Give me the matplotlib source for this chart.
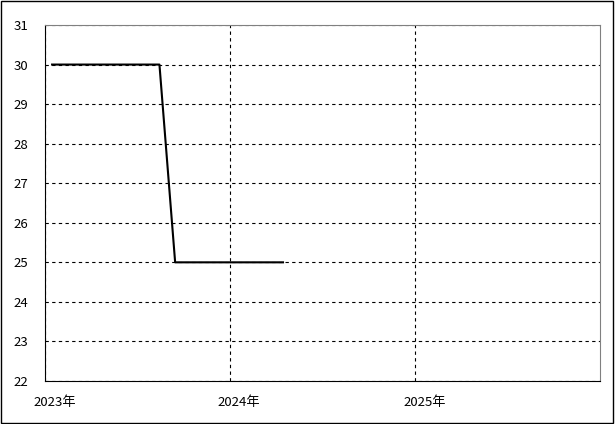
import matplotlib.pyplot as plt
import matplotlib.dates as mdates
import matplotlib.transforms as mtrans
import datetime

plt.rcParams['font.family'] = ['Noto Sans CJK JP', 'DejaVu Sans']

# monthly values, Jan 2023 - Apr 2024 (plotted mid-month)
months = [(2023, m) for m in range(1, 13)] + [(2024, m) for m in range(1, 5)]
values = [30, 30, 30, 30, 30, 30, 30, 30, 25, 25, 25, 25, 25, 25, 25, 25]
year_labels = ['2023年', '2024年', '2025年']

dates = [datetime.date(y, m, 15) for y, m in months]

fig = plt.figure(figsize=(6.15, 4.24), dpi=100)
ax = fig.add_axes([45 / 615, 1 - 381 / 424, 555 / 615, 356 / 424])

ax.plot(dates, values, color='black', lw=1.5)

ax.set_xlim(datetime.date(2023, 1, 1), datetime.date(2026, 1, 1))
ax.set_ylim(22, 31)
ax.set_yticks(range(22, 32))
ticks = [datetime.date(y, 1, 1) for y in (2023, 2024, 2025)]
ax.set_xticks(ticks)
ax.set_xticklabels(year_labels)
ax.tick_params(length=0, labelsize=9.5)
ax.tick_params(axis='y', pad=12)
ax.tick_params(axis='x', pad=11)
off = mtrans.ScaledTranslation(-12 / 100, 0, fig.dpi_scale_trans)
for lab in ax.get_xticklabels():
    lab.set_horizontalalignment('left')
    lab.set_transform(lab.get_transform() + off)

ax.grid(True, color='black', ls=(0, (3, 3)), lw=0.8)
ax.spines['top'].set_color('gray')
ax.spines['right'].set_color('gray')
for s in ['left', 'bottom']:
    ax.spines[s].set_color('black')

# outer frame
fig.patches.append(plt.Rectangle((0.002, 0.003), 0.994, 0.995, transform=fig.transFigure,
                                 fill=False, edgecolor='black', lw=1))

fig.savefig('out.png', dpi=100)
